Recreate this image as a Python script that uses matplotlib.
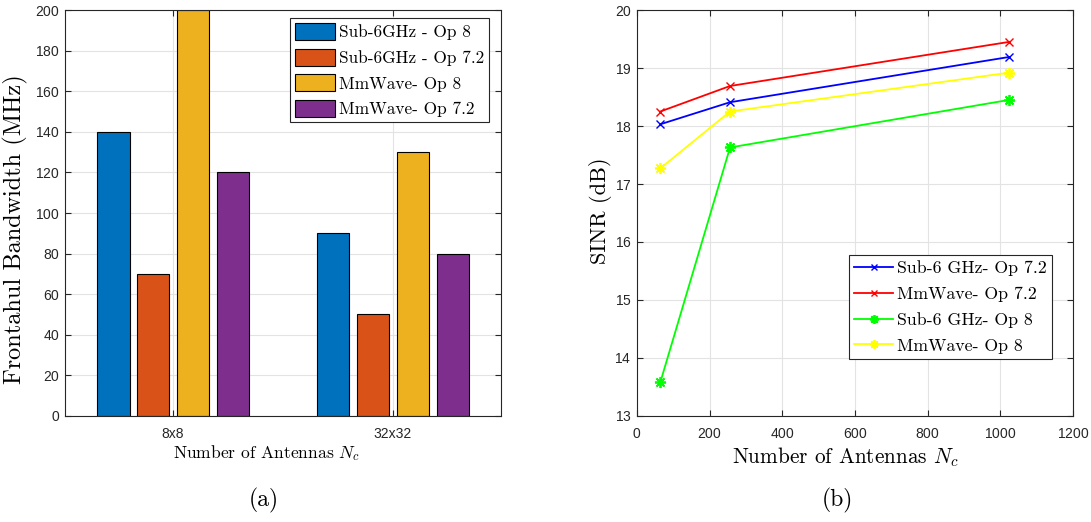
import numpy as np
import matplotlib
matplotlib.use("Agg")
import matplotlib.pyplot as plt

plt.rcParams["mathtext.fontset"] = "cm"
plt.rcParams["axes.formatter.use_mathtext"] = True

# ---- data: fronthaul bandwidth (a) ----
configs = ["8x8", "32x32"]
bar_labels = ["Sub-6GHz - Op 8", "Sub-6GHz - Op 7.2", "MmWave- Op 8", "MmWave- Op 7.2"]
bw_sub6_op8 = [140, 90]
bw_sub6_op72 = [70, 50]
bw_mmw_op8 = [200, 130]
bw_mmw_op72 = [120, 80]
bar_colors = ["#0072BD", "#D95319", "#EDB120", "#7E2F8E"]

# ---- data: SINR vs number of antennas (b) ----
antennas = [64, 256, 1024]
sinr_sub6_op72 = [18.03, 18.41, 19.19]
sinr_mmw_op72 = [18.25, 18.69, 19.45]
sinr_sub6_op8 = [13.58, 17.63, 18.45]
sinr_mmw_op8 = [17.27, 18.25, 18.92]
line_labels = ["Sub-6 GHz- Op 7.2", "MmWave- Op 7.2", "Sub-6 GHz- Op 8", "MmWave- Op 8"]

serif = "cmr10"
sans = "Liberation Sans"
spine_col = "#262626"
grid_col = "#e3e3e3"

fig = plt.figure(figsize=(10.91, 5.22), dpi=100)
ax1 = fig.add_axes([0.0599, 0.2031, 0.3990, 0.7777])
ax2 = fig.add_axes([0.5839, 0.2031, 0.3996, 0.7777])


def style_axes(ax):
    for s in ax.spines.values():
        s.set_color(spine_col)
        s.set_linewidth(0.8)
    ax.tick_params(direction="in", top=True, right=True, length=4,
                   width=0.8, color=spine_col, labelsize=10, labelcolor="#262626")
    ax.tick_params(axis="x", pad=8)
    ax.tick_params(axis="y", pad=4)
    for lab in ax.get_xticklabels() + ax.get_yticklabels():
        lab.set_fontfamily(sans)
    ax.grid(True, color=grid_col, linewidth=0.8)
    ax.set_axisbelow(True)


# ---- (a) grouped bars ----
x = np.arange(1, len(configs) + 1)
series = [bw_sub6_op8, bw_sub6_op72, bw_mmw_op8, bw_mmw_op72]
offsets = [-0.271, -0.090, 0.091, 0.272]
for vals, off, col, lab in zip(series, offsets, bar_colors, bar_labels):
    ax1.bar(x + off, vals, width=0.146, color=col, edgecolor="black",
            linewidth=0.8, label=lab, zorder=2)
ax1.set_xlim(0.51, 2.49)
ax1.set_ylim(0, 200)
ax1.set_yticks(np.arange(0, 201, 20))
ax1.set_xticks(x)
ax1.set_xticklabels(configs)
style_axes(ax1)
ax1.set_xlabel("Number of Antennas $N_c$", fontfamily=serif, fontsize=12.6)
ax1.xaxis.set_label_coords(0.463, -0.066)
ax1.set_ylabel("Frontahul Bandwidth (MHz)", fontfamily=serif, fontsize=17.5)
ax1.yaxis.set_label_coords(-0.086, 0.46)
leg1 = ax1.legend(loc="upper right", bbox_to_anchor=(0.974, 0.981),
                  prop={"family": serif, "size": 12.4},
                  fancybox=False, edgecolor="#262626", framealpha=1,
                  handlelength=2.3, handleheight=1.15, handletextpad=0.25,
                  labelspacing=0.48, borderpad=0.3, borderaxespad=0)
leg1.get_frame().set_linewidth(0.8)

# ---- (b) SINR lines ----
asterisk = (8, 2, 0)
ax2.plot(antennas, sinr_sub6_op72, color="blue", marker="x", ms=6, lw=1.3, label=line_labels[0])
ax2.plot(antennas, sinr_mmw_op72, color="red", marker="x", ms=6, lw=1.3, label=line_labels[1])
ax2.plot(antennas, sinr_sub6_op8, color="#00ff00", marker=asterisk, ms=8, mew=1.3, lw=1.3, label=line_labels[2])
ax2.plot(antennas, sinr_mmw_op8, color="yellow", marker=asterisk, ms=8, mew=1.3, lw=1.3, label=line_labels[3])
ax2.set_xlim(0, 1200)
ax2.set_ylim(13, 20)
ax2.set_xticks(np.arange(0, 1201, 200))
ax2.set_yticks(np.arange(13, 21, 1))
style_axes(ax2)
ax2.set_xlabel("Number of Antennas $N_c$", fontfamily=serif, fontsize=15.3)
ax2.xaxis.set_label_coords(0.477, -0.072)
ax2.set_ylabel("SINR (dB)", fontfamily=serif, fontsize=16)
ax2.yaxis.set_label_coords(-0.057, 0.505)
leg2 = ax2.legend(loc="upper right", bbox_to_anchor=(0.952, 0.397),
                  prop={"family": serif, "size": 12.8},
                  fancybox=False, edgecolor="#262626", framealpha=1,
                  handlelength=2.2, handletextpad=0.2, labelspacing=0.58,
                  borderpad=0.3, borderaxespad=0, markerscale=0.8)
leg2.get_frame().set_linewidth(0.8)

fig.text(0.242, 0.042, "(a)", fontfamily=serif, fontsize=17, ha="center", va="center")
fig.text(0.768, 0.042, "(b)", fontfamily=serif, fontsize=17, ha="center", va="center")

fig.savefig("out.png", dpi=100, facecolor="white")
